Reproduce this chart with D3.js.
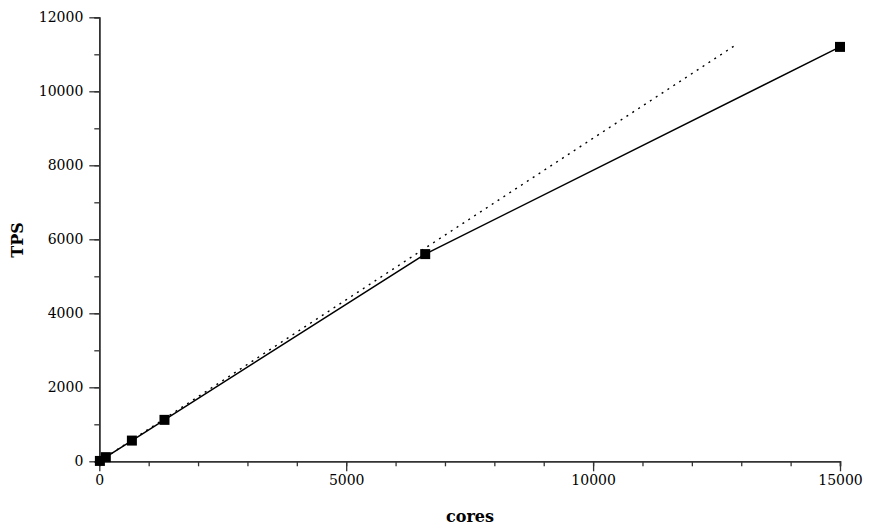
<!DOCTYPE html>
<html><head><meta charset="utf-8">
<script src="https://cdn.jsdelivr.net/npm/d3@7"></script>
<style>
html,body{margin:0;padding:0;background:#fff;}
svg{display:block;}
.tick text{font-family:"DejaVu Serif",serif;font-size:14px;fill:#000;}
</style></head>
<body>
<script>
const cores = [12, 132, 660, 1320, 6600, 15000];
const tps = [10, 112, 560, 1120, 5600, 11200];
const idealCores = [0, 12850];
const idealTps = [0, 11220];
const xTicks = [0, 5000, 10000, 15000];
const yTicks = [0, 2000, 4000, 6000, 8000, 10000, 12000];
const xMinor = d3.range(0, 15001, 1000);
const yMinor = d3.range(0, 12001, 1000);

const W = 872, H = 532;
const svg = d3.select("body").append("svg").attr("width", W).attr("height", H);
const x = d3.scaleLinear().domain([0, 15000]).range([99.3, 840]);
const y = d3.scaleLinear().domain([0, 12000]).range([461.3, 17.3]);
const axisColor = "#333";

const gx = svg.append("g").attr("transform", `translate(0,${y(0)})`);
gx.call(d3.axisBottom(x).tickValues(xMinor).tickSize(5).tickFormat(""));
const gx2 = svg.append("g").attr("transform", `translate(0,${y(0)})`);
gx2.call(d3.axisBottom(x).tickValues(xTicks).tickSize(10).tickSizeOuter(0).tickPadding(4).tickFormat(d3.format("d")));
const gy = svg.append("g").attr("transform", `translate(${x(0)},0)`);
gy.call(d3.axisLeft(y).tickValues(yMinor).tickSize(5).tickFormat(""));
const gy2 = svg.append("g").attr("transform", `translate(${x(0)},0)`);
gy2.call(d3.axisLeft(y).tickValues(yTicks).tickSize(10).tickSizeOuter(0).tickPadding(6).tickFormat(d3.format("d")));
svg.selectAll(".domain").attr("stroke", axisColor).attr("stroke-width", 1.5);
svg.selectAll(".tick line").attr("stroke", axisColor).attr("stroke-width", 1.3);

const idealData = idealCores.map((c, i) => [c, idealTps[i]]);
svg.append("path").datum(idealData)
  .attr("d", d3.line().x(d => x(d[0])).y(d => y(d[1])))
  .attr("fill", "none").attr("stroke", "#000").attr("stroke-width", 1.4)
  .attr("stroke-dasharray", "2,5");

const data = cores.map((c, i) => [c, tps[i]]);
svg.append("path").datum(data)
  .attr("d", d3.line().x(d => x(d[0])).y(d => y(d[1])))
  .attr("fill", "none").attr("stroke", "#000").attr("stroke-width", 1.5);
svg.selectAll("rect.pt").data(data).enter().append("rect").attr("class", "pt")
  .attr("x", d => x(d[0]) - 5).attr("y", d => y(d[1]) - 5)
  .attr("width", 10).attr("height", 10).attr("fill", "#000");

svg.append("text").attr("x", 470).attr("y", 522).attr("text-anchor", "middle")
  .attr("font-family", "DejaVu Serif, serif").attr("font-weight", "bold").attr("font-size", 16)
  .text("cores");
svg.append("text").attr("transform", `translate(23,240) rotate(-90)`).attr("text-anchor", "middle")
  .attr("font-family", "DejaVu Serif, serif").attr("font-weight", "bold").attr("font-size", 16)
  .text("TPS");
</script>
</body></html>
